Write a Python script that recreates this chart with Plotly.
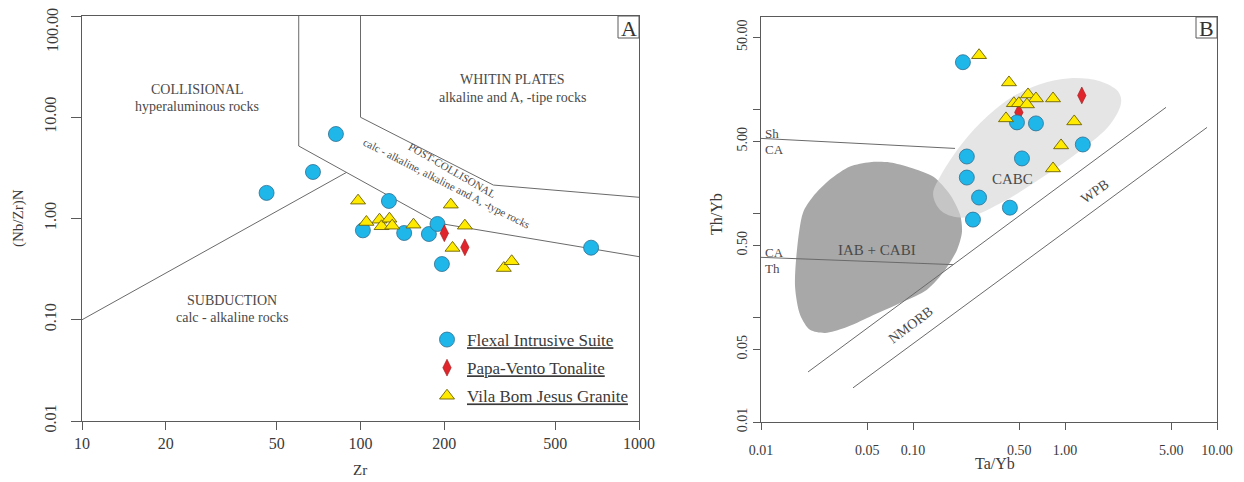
import plotly.graph_objects as go

# ---------------- Panel A data: Zr vs (Nb/Zr)N ----------------
flexal_zr = [46, 67.5, 81.6, 126.5, 102, 143.5, 176, 189, 196, 673]
flexal_nbzr = [1.79, 2.88, 6.83, 1.49, 0.764, 0.719, 0.703, 0.883, 0.355, 0.515]
papa_zr = [200, 237]
papa_nbzr = [0.715, 0.519]
vila_zr = [98, 105, 117, 119, 127, 130, 155, 211, 237, 214, 327, 349]
vila_nbzr = [1.50, 0.923, 0.973, 0.838, 0.995, 0.849, 0.869, 1.37, 0.849, 0.512, 0.324, 0.378]

# field boundaries (panel A)
colpc_zr = [60, 60, 190, 1000]
colpc_nbzr = [100, 5.2, 0.90, 0.42]
pcwp_zr = [100, 100, 300, 1000]
pcwp_nbzr = [100, 10, 2.14, 1.62]
sub_zr = [10, 89]
sub_nbzr = [0.1, 2.85]

# ---------------- Panel B data: Ta/Yb vs Th/Yb ----------------
flexal_tayb = [0.213, 0.483, 0.644, 1.31, 0.226, 0.521, 0.226, 0.272, 0.434, 0.248]
flexal_thyb = [28.8, 7.6, 7.43, 4.66, 3.57, 3.42, 2.24, 1.44, 1.15, 0.883]
papa_tayb = [1.29, 0.497]
papa_thyb = [13.8, 9.48]
vila_tayb = [0.272, 0.428, 0.571, 0.644, 0.834, 0.461, 0.497, 0.562, 0.409, 1.15, 0.942, 0.834]
vila_thyb = [33.6, 18.4, 14.1, 12.9, 12.9, 11.6, 11.6, 11.3, 8.3, 7.76, 4.56, 2.74]

# field boundaries (panel B)
shca_tayb = [0.01, 0.189]
shca_thyb = [5.33, 4.27]
cath_tayb = [0.01, 0.183]
cath_thyb = [0.383, 0.326]
morb_up_tayb = [0.0204, 4.62]
morb_up_thyb = [0.0303, 10.6]
morb_lo_tayb = [0.0403, 8.6]
morb_lo_thyb = [0.0213, 6.8]

# IAB + CABI field outline
iab_tayb = [0.01675, 0.01725, 0.0189, 0.022, 0.0284, 0.0385, 0.0521, 0.0706, 0.0955, 0.1355,
            0.175, 0.204, 0.21, 0.195, 0.163, 0.1236, 0.0859, 0.0521, 0.0357, 0.0264, 0.021,
            0.0181, 0.01675]
iab_thyb = [0.2, 0.454, 1.03, 1.47, 2.14, 2.86, 3.15, 3.13, 2.80, 2.29,
            1.54, 0.986, 0.676, 0.454, 0.291, 0.187, 0.143, 0.103, 0.0806, 0.0719, 0.077,
            0.107, 0.2]
# CABC field outline
cabc_tayb = [0.1356, 0.151, 0.213, 0.307, 0.455, 0.685, 1.08, 1.70, 2.23, 2.34, 1.98, 1.29,
             0.706, 0.373, 0.22, 0.155, 0.1356]
cabc_thyb = [1.54, 2.29, 4.87, 8.68, 13.5, 17.7, 20.2, 18.9, 15.1, 11.8, 7.26, 4.17,
             2.24, 1.26, 0.923, 1.055, 1.54]

# tick labels
a_xticks = [10, 20, 50, 100, 200, 500, 1000]
a_xtext = ["10", "20", "50", "100", "200", "500", "1000"]
a_yticks = [0.01, 0.1, 1, 10, 100]
a_ytext = ["0.01", "0.10", "1.00", "10.00", ""]   # top label drawn below its tick, as in the original
a_ytop_label = "100.00"
b_xticks = [0.01, 0.05, 0.1, 0.5, 1, 5, 10]
b_xtext = ["0.01", "0.05", "0.10", "0.50", "1.00", "5.00", "10.00"]
b_yticks = [0.01, 0.05, 0.1, 0.5, 1, 5, 10, 50]
b_ytext = ["0.01", "0.05", "", "0.50", "", "5.00", "", "50.00"]

W, H = 1244, 482
FONT = "Liberation Serif"
LINE = "#5a5a5a"
TXT = "#3a3a3a"

CYAN = "#1fb6ea"
RED = "#e0262c"
YELLOW = "#ffea00"

def px(x):
    return x / W

def py(y):
    return 1 - y / H

fig = go.Figure()

# ---- panel A boundaries
for xs, ys in [(colpc_zr, colpc_nbzr), (pcwp_zr, pcwp_nbzr), (sub_zr, sub_nbzr)]:
    fig.add_trace(go.Scatter(x=xs, y=ys, mode="lines", line=dict(color="#6a6a6a", width=1),
                             showlegend=False, hoverinfo="skip", xaxis="x", yaxis="y"))

def u(s):
    return '<span style="text-decoration:underline">' + s + '</span>'

fig.add_trace(go.Scatter(x=flexal_zr, y=flexal_nbzr, mode="markers", name=u("Flexal Intrusive Suite"),
                         legendgroup="g1",
                         marker=dict(symbol="circle", size=15, color=CYAN, line=dict(color="#2f6f8f", width=0.8)),
                         xaxis="x", yaxis="y"))
fig.add_trace(go.Scatter(x=papa_zr, y=papa_nbzr, mode="markers", name=u("Papa-Vento Tonalite"),
                         legendgroup="g2",
                         marker=dict(symbol="diamond-tall", size=12, color=RED, line=dict(color="#9a1a1a", width=0.6)),
                         xaxis="x", yaxis="y"))
fig.add_trace(go.Scatter(x=vila_zr, y=vila_nbzr, mode="markers", name=u("Vila Bom Jesus Granite"),
                         legendgroup="g3",
                         marker=dict(symbol="triangle-up", size=13, color=YELLOW, line=dict(color="#6e6200", width=0.9)),
                         xaxis="x", yaxis="y"))

# ---- panel B fields
fig.add_trace(go.Scatter(x=iab_tayb, y=iab_thyb, mode="lines", fill="toself", fillcolor="#a8a8a8",
                         line=dict(color="rgba(0,0,0,0)", width=0, shape="spline", smoothing=0.8),
                         showlegend=False, hoverinfo="skip", xaxis="x2", yaxis="y2"))
fig.add_trace(go.Scatter(x=cabc_tayb, y=cabc_thyb, mode="lines", fill="toself",
                         fillcolor="rgba(214,214,214,0.63)",
                         line=dict(color="rgba(0,0,0,0)", width=0, shape="spline", smoothing=1.0),
                         showlegend=False, hoverinfo="skip", xaxis="x2", yaxis="y2"))
for xs, ys in [(shca_tayb, shca_thyb), (cath_tayb, cath_thyb), (morb_up_tayb, morb_up_thyb),
               (morb_lo_tayb, morb_lo_thyb)]:
    fig.add_trace(go.Scatter(x=xs, y=ys, mode="lines", line=dict(color="#6a6a6a", width=1),
                             showlegend=False, hoverinfo="skip", xaxis="x2", yaxis="y2"))

fig.add_trace(go.Scatter(x=papa_tayb, y=papa_thyb, mode="markers", showlegend=False,
                         marker=dict(symbol="diamond-tall", size=12, color=RED, line=dict(color="#9a1a1a", width=0.6)),
                         xaxis="x2", yaxis="y2"))
fig.add_trace(go.Scatter(x=flexal_tayb, y=flexal_thyb, mode="markers", showlegend=False,
                         marker=dict(symbol="circle", size=15, color=CYAN, line=dict(color="#2f6f8f", width=0.8)),
                         xaxis="x2", yaxis="y2"))
fig.add_trace(go.Scatter(x=vila_tayb, y=vila_thyb, mode="markers", showlegend=False,
                         marker=dict(symbol="triangle-up", size=13, color=YELLOW, line=dict(color="#6e6200", width=0.9)),
                         xaxis="x2", yaxis="y2"))

axis_common = dict(type="log", showgrid=False, zeroline=False, showline=True, linecolor=LINE,
                   linewidth=1, mirror=True, ticks="outside", tickcolor=LINE, tickwidth=1,
                   automargin=False)

fig.update_layout(
    width=W, height=H, paper_bgcolor="white", plot_bgcolor="white",
    margin=dict(l=0, r=0, t=0, b=0, autoexpand=False),
    font=dict(family=FONT, color=TXT),
    xaxis=dict(axis_common, domain=[px(82), px(639)], range=[1, 3], tickvals=a_xticks, ticktext=a_xtext,
               ticklen=8, tickfont=dict(size=16, family=FONT, color=TXT), anchor="y"),
    yaxis=dict(axis_common, domain=[py(421), py(16)], range=[-2, 2], tickvals=a_yticks, ticktext=a_ytext,
               ticklen=10, tickangle=-90, ticklabelstandoff=9,
               tickfont=dict(size=16, family=FONT, color=TXT), anchor="x"),
    xaxis2=dict(axis_common, domain=[px(761), px(1217)], range=[-2, 1], tickvals=b_xticks, ticktext=b_xtext,
                ticklen=7, ticklabelstandoff=8, tickfont=dict(size=14, family=FONT, color=TXT), anchor="y2"),
    yaxis2=dict(axis_common, domain=[py(422), py(17)], range=[-2, 1.894], tickvals=b_yticks, ticktext=b_ytext,
                ticklen=7, tickangle=-90, tickfont=dict(size=14, family=FONT, color=TXT), anchor="x2"),
    showlegend=True,
    legend=dict(x=px(427), y=py(322), xanchor="left", yanchor="top", bgcolor="rgba(0,0,0,0)",
                font=dict(size=17, family=FONT, color=TXT), tracegroupgap=3, traceorder="grouped"),
)

ann = []
def label(text, x, y, size=14, angle=0, xanchor="center", color="#4a4a4a"):
    ann.append(dict(text=text, x=px(x), y=py(y), xref="paper", yref="paper", showarrow=False,
                    font=dict(size=size, family=FONT, color=color), textangle=angle,
                    xanchor=xanchor, yanchor="middle"))

# top tick label of panel A y axis (kept inside the figure)
label(a_ytop_label, 52, 30, size=16, angle=-90, color=TXT)

# axis titles
label("Zr", 360, 470, size=15, color=TXT)
label("(Nb/Zr)N", 19, 218, size=15, angle=-90, color=TXT)
label("Ta/Yb", 995, 463, size=16, color=TXT)
label("Th/Yb", 716, 214, size=16, angle=-90, color=TXT)

# panel A fields
label("COLLISIONAL", 197, 89, size=14)
label("hyperaluminous rocks", 197, 106, size=14)
label("WHITIN PLATES", 512, 80, size=14)
label("alkaline and A, -tipe rocks", 512, 98, size=14)
label("SUBDUCTION", 232, 300, size=14)
label("calc - alkaline rocks", 232, 317, size=14)
label("POST-COLLISONAL", 452, 170, size=11, angle=30)
label("calc - alkaline, alkaline and A, -type rocks", 446, 183, size=11, angle=27)

# panel B fields
label("Sh", 763, 133, size=13, xanchor="left")
label("CA", 763, 149, size=13, xanchor="left")
label("CA", 763, 252, size=13, xanchor="left")
label("Th", 763, 268, size=13, xanchor="left")
label("IAB + CABI", 877, 250, size=15)
label("CABC", 1012, 179, size=15)
label("WPB", 1095, 192, size=14, angle=-35)
label("NMORB", 910, 325, size=14, angle=-37)

# panel letters
label("A", 628.5, 28, size=22, color="#333")
label("B", 1206.5, 28, size=22, color="#333")

shapes = [
    dict(type="rect", xref="paper", yref="paper", x0=px(618), x1=px(639), y0=py(38), y1=py(16),
         line=dict(color=LINE, width=1), fillcolor="white"),
    dict(type="rect", xref="paper", yref="paper", x0=px(1196), x1=px(1217), y0=py(38), y1=py(17),
         line=dict(color=LINE, width=1), fillcolor="white"),
]
fig.update_layout(annotations=ann, shapes=shapes)

fig.write_html("out.html", config={"displayModeBar": False},
               post_script="document.body.style.margin='0px';document.body.style.overflow='hidden';")
